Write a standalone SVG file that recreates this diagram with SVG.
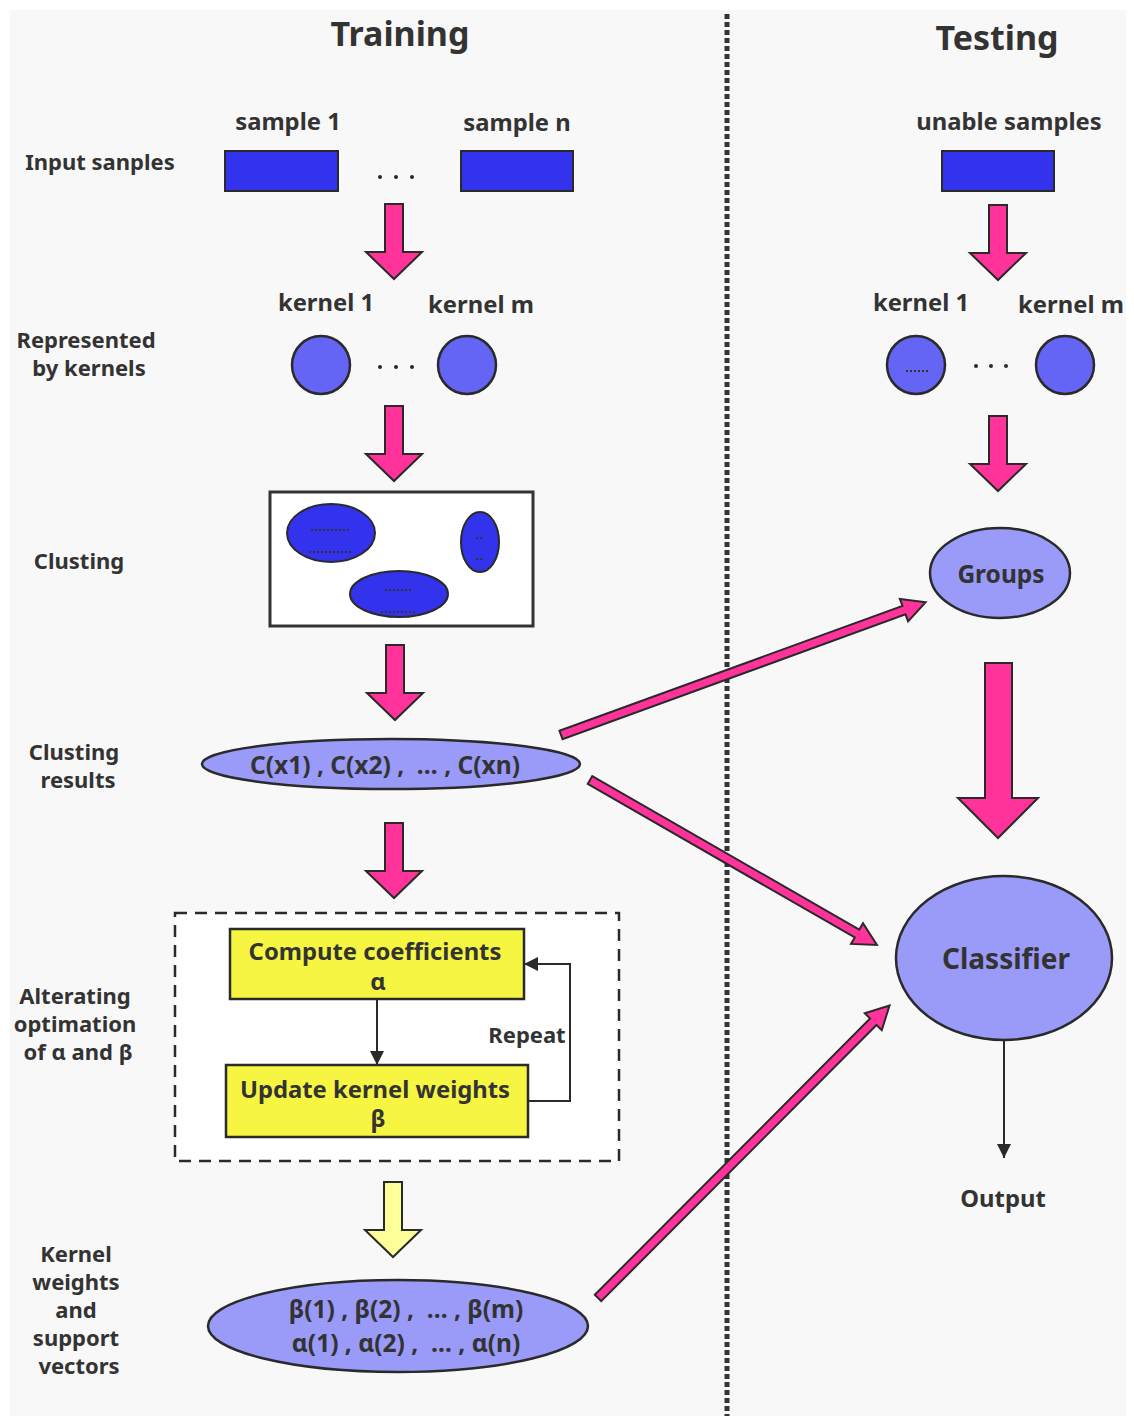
<svg xmlns="http://www.w3.org/2000/svg" width="1134" height="1416" viewBox="0 0 1134 1416">
<style>
text{font-family:"Noto Sans","Open Sans","DejaVu Sans",sans-serif;font-weight:700;fill:#333;text-anchor:middle}
.lbl{font-size:22px}
.top{font-size:23.8px}
.ttl{font-size:34px}
.blk{fill:#3333ee;stroke:#2a2a2a;stroke-width:2}
.ker{fill:#6464f5;stroke:#2a2a2a;stroke-width:2.5}
.lav{fill:#9a9af8;stroke:#2a2a2a;stroke-width:2.5}
.yel{fill:#f5f542;stroke:#2a2a2a;stroke-width:2.5}
.pk{fill:#ff3399;stroke:#2a2a2a;stroke-width:2}
.ln{fill:none;stroke:#2a2a2a;stroke-width:2}
.sd{fill:none;stroke:#333;stroke-width:2;stroke-dasharray:2,2}
.dot{fill:#2a2a2a}
</style>
<defs>
<path id="da" d="M-9,0 H9 V48 H28 L0,75 L-28,48 H-9 Z"/>
<marker id="ah2" viewBox="0 0 10 10" refX="10" refY="5" markerWidth="20" markerHeight="14" markerUnits="userSpaceOnUse" orient="auto">
<path d="M0,0 L10,5 L0,10 Z" fill="#2a2a2a"/>
</marker>
</defs>
<rect width="1134" height="1416" fill="#ffffff"/>
<rect x="10" y="10" width="1116" height="1406" fill="#f8f8f8"/>
<line x1="727" y1="14" x2="727" y2="1416" stroke="#333" stroke-width="5" stroke-dasharray="5,3"/>

<g id="titles">
<text class="ttl" x="400" y="46">Training</text>
<text class="ttl" x="997" y="50">Testing</text>
</g>

<g id="row-labels">
<text class="lbl" x="100" y="170">Input sanples</text>
<text class="lbl" x="86" y="348">Represented</text>
<text class="lbl" x="89" y="376">by kernels</text>
<text class="lbl" x="79" y="569">Clusting</text>
<text class="lbl" x="74" y="760">Clusting</text>
<text class="lbl" x="78" y="788">results</text>
<text class="lbl" x="75" y="1004">Alterating</text>
<text class="lbl" x="75" y="1032">optimation</text>
<text class="lbl" x="78" y="1060">of α and β</text>
<text class="lbl" x="76" y="1262">Kernel</text>
<text class="lbl" x="76" y="1290">weights</text>
<text class="lbl" x="76" y="1318">and</text>
<text class="lbl" x="76" y="1346">support</text>
<text class="lbl" x="79" y="1374">vectors</text>
</g>

<g id="input-samples">
<text class="top" x="288" y="130">sample 1</text>
<text class="top" x="517" y="131">sample n</text>
<rect class="blk" x="225" y="151" width="113" height="40"/>
<rect class="blk" x="461" y="151" width="112" height="40"/>
<circle class="dot" cx="380" cy="177" r="2"/><circle class="dot" cx="396" cy="177" r="2"/><circle class="dot" cx="412" cy="177" r="2"/>
</g>

<g id="test-sample">
<text class="top" x="1009" y="130">unable samples</text>
<rect class="blk" x="942" y="151" width="112" height="40"/>
</g>

<g id="kernels-train">
<text class="top" x="326" y="311">kernel 1</text>
<text class="top" x="481" y="313">kernel m</text>
<circle class="ker" cx="321" cy="365" r="29"/>
<circle class="ker" cx="467" cy="365" r="29"/>
<circle class="dot" cx="380" cy="367" r="2"/><circle class="dot" cx="396" cy="367" r="2"/><circle class="dot" cx="412" cy="367" r="2"/>
</g>

<g id="kernels-test">
<text class="top" x="921" y="311">kernel 1</text>
<text class="top" x="1071" y="313">kernel m</text>
<circle class="ker" cx="916" cy="365" r="29"/>
<circle class="ker" cx="1065" cy="365" r="29"/>
<line class="sd" x1="906" y1="371" x2="929" y2="371"/>
<circle class="dot" cx="976" cy="366" r="2"/><circle class="dot" cx="991" cy="366" r="2"/><circle class="dot" cx="1006" cy="366" r="2"/>
</g>

<g id="clustering">
<rect x="270" y="492" width="263" height="134" fill="#ffffff" stroke="#333" stroke-width="3"/>
<ellipse class="blk" cx="331" cy="533" rx="44" ry="29" stroke-width="2.5"/>
<line class="sd" x1="311" y1="530" x2="351" y2="530"/>
<line class="sd" x1="309" y1="552" x2="353" y2="552"/>
<ellipse class="blk" cx="480" cy="542" rx="19" ry="30" stroke-width="2.5"/>
<line class="sd" x1="476" y1="538" x2="484" y2="538"/>
<line class="sd" x1="476" y1="559" x2="484" y2="559"/>
<ellipse class="blk" cx="399" cy="594" rx="49" ry="23" stroke-width="2.5"/>
<line class="sd" x1="385" y1="590" x2="413" y2="590"/>
<line class="sd" x1="381" y1="612" x2="417" y2="612"/>
</g>

<g id="clustering-results">
<ellipse class="lav" cx="391" cy="764" rx="189" ry="25"/>
<text x="385" y="774" font-size="24.5" xml:space="preserve">C(x1) , C(x2) ,  … , C(xn)</text>
</g>

<g id="alternating">
<rect x="175" y="913" width="444" height="248" fill="#ffffff" stroke="#2a2a2a" stroke-width="2.5" stroke-dasharray="12,8"/>
</g>
<g id="compute">
<rect class="yel" x="230" y="929" width="294" height="70"/>
<text x="375" y="960" font-size="23.8">Compute coefficients</text>
<text x="378" y="990" font-size="23.8">α</text>
</g>
<g id="update">
<rect class="yel" x="226" y="1065" width="302" height="72"/>
<text x="375" y="1098" font-size="23.8">Update kernel weights</text>
<text x="378" y="1127" font-size="23.8">β</text>
</g>

<g id="kernel-weights">
<ellipse class="lav" cx="398" cy="1326" rx="190" ry="46"/>
<text x="406" y="1318" font-size="24.5" xml:space="preserve">β(1) , β(2) ,  … , β(m)</text>
<text x="406" y="1352" font-size="24.5" xml:space="preserve">α(1) , α(2) ,  … , α(n)</text>
</g>

<g id="groups">
<ellipse class="lav" cx="1000" cy="573" rx="70" ry="45"/>
<text x="1001" y="583" font-size="24.5">Groups</text>
</g>

<g id="classifier">
<ellipse class="lav" cx="1004" cy="958" rx="108" ry="82"/>
<text x="1006" y="969" font-size="28">Classifier</text>
</g>

<g id="output">
<text class="top" x="1003" y="1207">Output</text>
</g>

<g id="connectors">
<use href="#da" class="pk" x="394" y="204"/>
<use href="#da" class="pk" x="394" y="406"/>
<use href="#da" class="pk" x="395" y="645"/>
<use href="#da" class="pk" x="394" y="823"/>
<use href="#da" x="393" y="1182" fill="#ffff99" stroke="#2a2a2a" stroke-width="2"/>
<use href="#da" class="pk" x="998" y="205"/>
<use href="#da" class="pk" x="998" y="416"/>
<path class="pk" d="M985,663 H1012 V798 H1038 L998,838 L958,798 H985 Z"/>
<path class="pk" transform="translate(561,735) rotate(-20.0)" d="M0,-4.5 H365 V-12 L388,0 L365,12 V4.5 H0 Z"/>
<path class="pk" transform="translate(590,780) rotate(29.9)" d="M0,-4.5 H308 V-12 L331,0 L308,12 V4.5 H0 Z"/>
<path class="pk" transform="translate(598,1298) rotate(-45.1)" d="M0,-4.5 H390 V-12 L413,0 L390,12 V4.5 H0 Z"/>
<line class="ln" x1="377" y1="999" x2="377" y2="1065" marker-end="url(#ah2)"/>
<polyline class="ln" points="528,1101 570,1101 570,964 524,964" marker-end="url(#ah2)"/>
<line class="ln" x1="1004" y1="1040" x2="1004" y2="1158" marker-end="url(#ah2)"/>
<text class="lbl" x="527" y="1043" font-size="21">Repeat</text>
</g>
</svg>
